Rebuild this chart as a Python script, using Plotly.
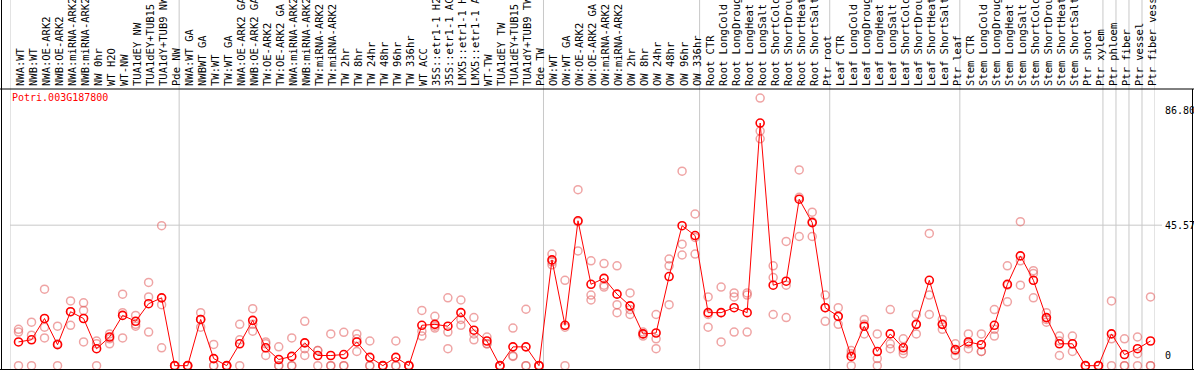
import plotly.graph_objects as go

GENE = "Potri.003G187800"

categories = [
    "NWA:WT", "NWB:WT", "NWA:OE-ARK2", "NWB:OE-ARK2", "NWA:miRNA-ARK2", "NWB:miRNA-ARK2",
    "NW 0hr", "WT H2O", "WT-NW", "TUA1dEY NW", "TUA1dEY+TUB15 NW", "TUA1dY+TUB9 NW", "Pde NW",
    "NWA:WT GA", "NWBWT GA", "TW:WT", "TW:WT GA", "NWA:OE-ARK2 GA", "NWB:OE-ARK2 GA",
    "TW:OE-ARK2", "TW:OE-ARK2 GA", "NWA:miRNA-ARK2", "NWB:miRNA-ARK2", "TW:miRNA-ARK2",
    "TW:miRNA-ARK2", "TW 2hr", "TW 8hr", "TW 24hr", "TW 48hr", "TW 96hr", "TW 336hr",
    "WT ACC", "35S::etr1-1 H2O", "35S::etr1-1 ACC", "LMX5::etr1-1 H2O", "LMX5::etr1-1 ACC",
    "WT-TW", "TUA1dEY TW", "TUA1dEY+TUB15 TW", "TUA1dY+TUB9 TW", "Pde TW",
    "OW:WT", "OW:WT GA", "OW:OE-ARK2", "OW:OE-ARK2 GA", "OW:miRNA-ARK2", "OW:miRNA-ARK2",
    "OW 2hr", "OW 8hr", "OW 24hr", "OW 48hr", "OW 96hr", "OW 336hr",
    "Root CTR", "Root LongCold", "Root LongDrought", "Root LongHeat", "Root LongSalt",
    "Root ShortCold", "Root ShortDrought", "Root ShortHeat", "Root ShortSalt", "Ptr root",
    "Leaf CTR", "Leaf LongCold", "Leaf LongDrought", "Leaf LongHeat", "Leaf LongSalt",
    "Leaf ShortCold", "Leaf ShortDrought", "Leaf ShortHeat", "Leaf ShortSalt", "Ptr leaf",
    "Stem CTR", "Stem LongCold", "Stem LongDrought", "Stem LongHeat", "Stem LongSalt",
    "Stem ShortCold", "Stem ShortDrought", "Stem ShortHeat", "Stem ShortSalt", "Ptr shoot",
    "Ptr xylem", "Ptr phloem", "Ptr fiber", "Ptr vessel", "Ptr fiber vessel",
]

mean_values = [
    7.7, 8.4, 15.3, 6.8, 17.5, 15.3, 5.5, 9.3, 16.3, 14.4, 20.1, 22.0, 0.0,
    0.0, 15.0, 2.3, 0.0, 7.1, 14.7, 5.8, 2.0, 3.0, 7.4, 3.3, 3.3, 3.6, 7.7, 2.7,
    0.0, 2.7, 0.0, 13.1, 13.4, 12.8, 17.2, 11.5, 8.0, 0.0, 6.1, 6.1, 0.0,
    34.3, 13.1, 47.0, 26.4, 28.3, 23.2, 19.4, 10.3, 10.6, 28.9, 45.4, 42.2,
    17.2, 17.2, 18.8, 17.2, 78.7, 26.1, 27.4, 54.0, 46.4, 18.8,
    16.0, 3.0, 12.8, 4.6, 10.3, 5.8, 13.4, 27.7, 13.4, 5.2,
    7.7, 6.8, 13.1, 26.4, 35.6, 27.7, 15.6, 7.1, 7.1, 0.0,
    0.0, 10.3, 3.6, 5.5, 8.0,
]

rep1 = [
    11.8, 14.1, 24.8, 12.8, 21.0, 20.4, 8.0, 10.3, 23.2, 16.3, 27.0, 45.4, 0.0,
    0.0, 17.2, 6.9, 0.0, 13.4, 18.5, 7.7, 6.1, 9.0, 14.4, 4.9, 10.3, 10.8, 10.3, 8.0,
    0.0, 8.0, 0.0, 17.9, 16.0, 22.0, 21.3, 15.6, 9.3, 0.0, 12.2, 18.3, 0.0,
    36.2, 27.7, 57.1, 34.0, 33.1, 32.4, 23.6, 10.9, 16.6, 34.6, 63.1, 49.2,
    22.3, 25.5, 23.6, 23.6, 86.8, 32.4, 40.3, 63.5, 49.8, 22.9,
    18.8, 4.9, 15.0, 10.3, 18.2, 8.7, 16.6, 42.9, 15.0, 7.1,
    10.3, 10.3, 18.2, 32.4, 46.7, 30.8, 17.2, 9.6, 9.6, 0.0,
    0.0, 21.0, 8.7, 9.3, 22.3,
]

rep2 = [
    10.9, 9.9, 12.5, 7.1, 17.5, 17.9, 7.1, 8.7, 17.2, 13.4, 22.3, 19.8, 0.0,
    0.0, 15.0, 0.0, 0.0, 8.4, 13.4, 7.1, 0.0, 0.0, 5.5, 4.9, 0.0, 0.0, 8.7, 0.0,
    0.0, 0.0, 0.0, 11.2, 12.8, 10.9, 15.0, 10.3, 7.1, 0.0, 3.2, 0.0, 0.0,
    33.7, 12.5, 37.2, 22.9, 26.1, 19.8, 18.2, 10.3, 8.7, 32.4, 39.4, 36.2,
    16.6, 7.7, 22.3, 22.9, 76.1, 28.6, 26.1, 54.6, 46.7, 18.8,
    16.0, 0.0, 13.4, 2.3, 5.5, 4.9, 13.4, 22.9, 13.4, 3.3,
    7.1, 4.6, 11.8, 26.1, 34.0, 29.9, 15.0, 8.0, 7.1, 0.0,
    0.0, 8.7, 0.0, 3.9, 0.0,
]

rep3 = [
    0.0, 0.0, 9.0, 0.0, 13.1, 7.7, 0.0, 7.1, 9.0, 12.8, 10.9, 5.8, 0.0,
    0.0, 12.5, 0.0, 0.0, 0.0, 11.2, 3.3, 0.0, 0.0, 3.3, 0.0, 0.0, 0.0, 4.6, 0.0,
    0.0, 0.0, 0.0, 9.6, 12.2, 5.5, 13.1, 8.4, 7.1, 0.0, 3.0, 0.0, 0.0,
    32.7, 0.0, 46.7, 21.3, 25.5, 17.2, 16.6, 9.6, 5.5, 19.8, 35.9, 41.6,
    12.5, 17.2, 10.9, 10.9, 73.6, 16.6, 15.6, 41.9, 41.9, 14.4,
    13.4, 3.9, 10.3, 0.0, 7.1, 3.9, 10.3, 16.6, 11.8, 4.9,
    5.5, 4.6, 9.6, 20.7, 26.1, 22.0, 14.1, 3.3, 4.6, 0.0,
    0.0, 0.0, 0.0, 0.0, 0.0,
]

# category indices where a group separator is drawn
group_breaks = [0, 13, 41, 53, 63, 73, 84, 85, 86, 87, 88]

y_ticks = [86.80, 45.57, 0]
y_tick_text = ["86.80", "45.57", "0"]

# ---------------------------------------------------------------
W, H = 1194, 370
L_PX, R_PX, T_PX, B_PX = 10, 1155, 89, 369
PW, PH = R_PX - L_PX, B_PX - T_PX
X_OFF = 0.654  # points sit a little right of the cell centre
Y_MIN, Y_MAX = -1.08, 89.74

def px_to_paper_x(px):
    return (px - L_PX) / PW

def px_to_paper_y(py):
    return (B_PX - py) / PH

MONO = "DejaVu Sans Mono"
x_idx = list(range(len(categories)))

fig = go.Figure()

rx, ry = [], []
for rep in (rep1, rep2, rep3):
    for i, v in enumerate(rep):
        if v is not None:
            rx.append(i)
            ry.append(v)

fig.add_trace(go.Scatter(
    x=rx, y=ry, mode="markers", cliponaxis=False, hoverinfo="skip",
    marker=dict(symbol="circle-open", size=8, color="rgba(225,90,90,0.55)",
                line=dict(width=1.5, color="rgba(225,90,90,0.55)")),
))

fig.add_trace(go.Scatter(
    x=x_idx, y=mean_values, mode="lines+markers", cliponaxis=False,
    line=dict(color="#ff0000", width=1),
    marker=dict(symbol="circle-open", size=8, color="#ff0000",
                line=dict(width=1.6, color="#ff0000")),
))

shapes = []
for k in group_breaks:
    shapes.append(dict(type="line", xref="x", yref="paper",
                       x0=k - X_OFF, x1=k - X_OFF,
                       y0=px_to_paper_y(370), y1=px_to_paper_y(0),
                       line=dict(color="#c8c8c8", width=1), layer="below"))
# horizontal mid grid line
shapes.append(dict(type="line", xref="paper", yref="y",
                   x0=0, x1=px_to_paper_x(1162), y0=y_ticks[1], y1=y_ticks[1],
                   line=dict(color="#c8c8c8", width=1), layer="below"))
# black frame lines
black = dict(color="#000000", width=1)
shapes.append(dict(type="line", xref="paper", yref="paper",
                   x0=px_to_paper_x(0), x1=px_to_paper_x(W), y0=px_to_paper_y(89), y1=px_to_paper_y(89), line=black))
shapes.append(dict(type="line", xref="paper", yref="paper",
                   x0=px_to_paper_x(0), x1=px_to_paper_x(W), y0=px_to_paper_y(369.5), y1=px_to_paper_y(369.5), line=black))
shapes.append(dict(type="line", xref="paper", yref="paper",
                   x0=px_to_paper_x(1.5), x1=px_to_paper_x(1.5), y0=px_to_paper_y(370), y1=px_to_paper_y(0), line=black))
shapes.append(dict(type="line", xref="paper", yref="paper",
                   x0=px_to_paper_x(1192.5), x1=px_to_paper_x(1192.5), y0=px_to_paper_y(370), y1=px_to_paper_y(89), line=black))

annotations = [dict(text=GENE, xref="paper", yref="paper",
                    x=px_to_paper_x(10), y=px_to_paper_y(97),
                    xanchor="left", yanchor="middle", showarrow=False,
                    font=dict(family=MONO, size=10, color="#ff0000"))]
shifts = [-12, 0, 10]
for v, t, s in zip(y_ticks, y_tick_text, shifts):
    annotations.append(dict(text=t, xref="paper", yref="y",
                            x=px_to_paper_x(1163), y=v, yshift=s,
                            xanchor="left", yanchor="middle", showarrow=False,
                            font=dict(family=MONO, size=10, color="#000000")))

fig.update_layout(
    template="none",
    width=W, height=H,
    margin=dict(l=L_PX, r=W - R_PX, t=T_PX, b=H - B_PX, pad=0),
    paper_bgcolor="white", plot_bgcolor="white",
    showlegend=False,
    shapes=shapes, annotations=annotations,
    xaxis=dict(range=[-X_OFF, len(categories) - X_OFF], side="top",
               tickmode="array", tickvals=x_idx, ticktext=categories,
               tickangle=-90, ticks="", showgrid=False, zeroline=False,
               showline=False, automargin=False,
               ticklabelshift=2, ticklabelstandoff=2,
               tickfont=dict(family=MONO, size=10.5, color="#000000")),
    yaxis=dict(range=[Y_MIN, Y_MAX], showticklabels=False, ticks="",
               showgrid=False, zeroline=False, showline=False, automargin=False),
)

fig.write_html(
    "out.html",
    config={"displayModeBar": False},
    post_script="document.body.style.margin='0px';document.body.style.overflow='hidden';",
)
